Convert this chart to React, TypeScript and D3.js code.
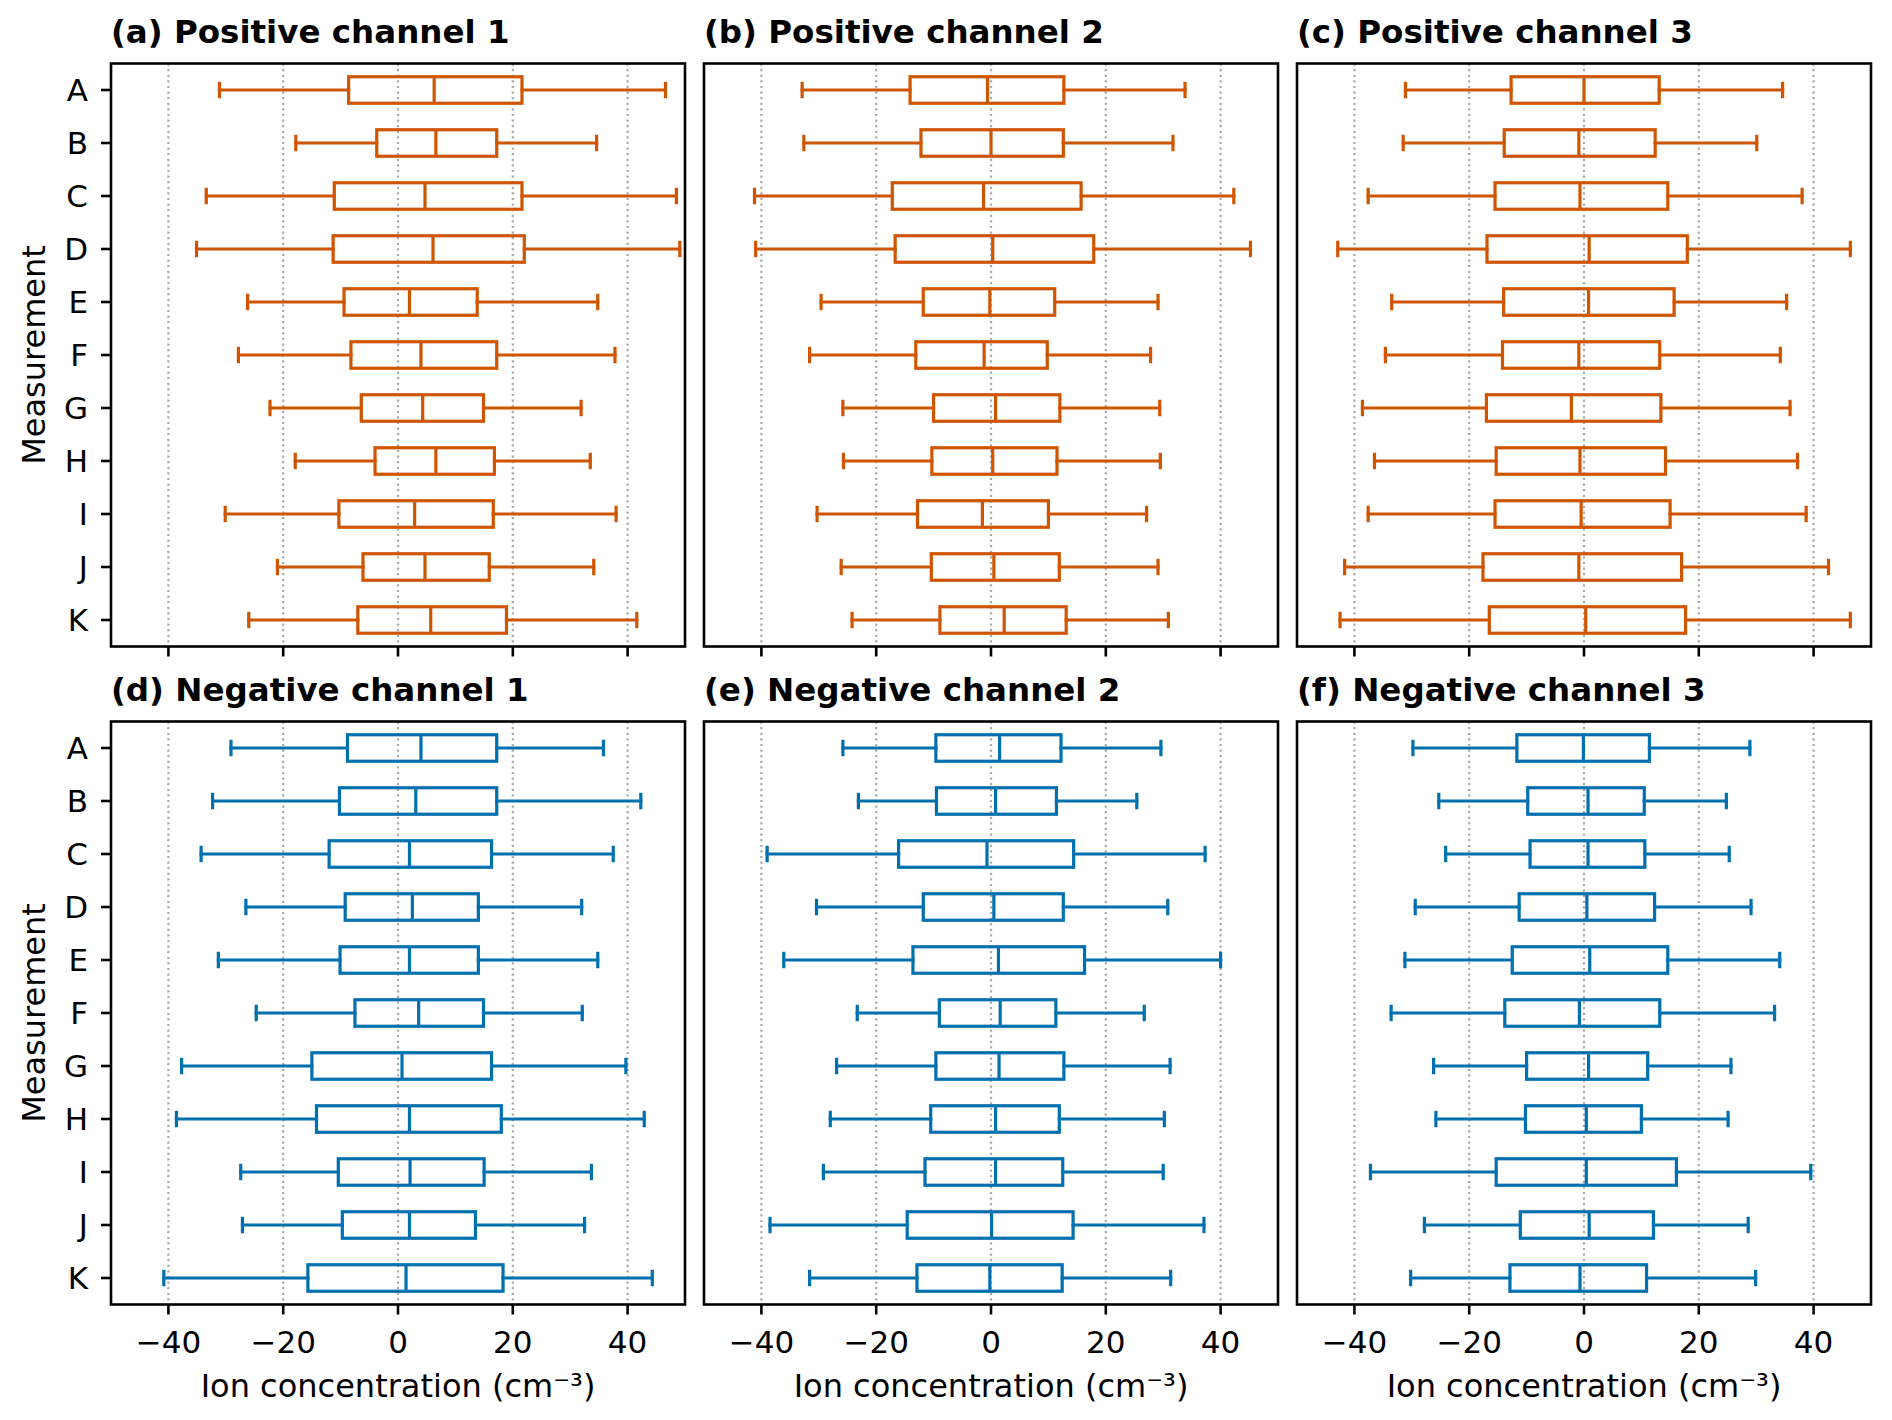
import React from 'react';
import * as d3 from 'd3';

// measurement letters, top to bottom
const categories = ['A', 'B', 'C', 'D', 'E', 'F', 'G', 'H', 'I', 'J', 'K'];

const xTicks = [-40, -20, 0, 20, 40];
const xTickLabels = ['−40', '−20', '0', '20', '40'];

// [whisker low, q1, median, q3, whisker high] per category
const posCh1 = [
  [-31.1, -8.6, 6.3, 21.6, 46.6],
  [-17.8, -3.7, 6.6, 17.2, 34.6],
  [-33.4, -11.1, 4.7, 21.6, 48.5],
  [-35.1, -11.3, 6.1, 22.0, 49.1],
  [-26.2, -9.4, 2.0, 13.8, 34.8],
  [-27.8, -8.2, 4.0, 17.2, 37.8],
  [-22.3, -6.4, 4.3, 14.9, 31.9],
  [-17.9, -4.0, 6.6, 16.8, 33.5],
  [-30.1, -10.3, 2.9, 16.6, 38.0],
  [-21.0, -6.1, 4.7, 15.9, 34.1],
  [-26.0, -7.0, 5.7, 18.9, 41.6],
];

const posCh2 = [
  [-32.9, -14.1, -0.6, 12.7, 33.8],
  [-32.6, -12.2, 0.0, 12.6, 31.7],
  [-41.2, -17.2, -1.3, 15.7, 42.3],
  [-41.0, -16.7, 0.3, 17.9, 45.2],
  [-29.6, -11.8, -0.2, 11.1, 29.1],
  [-31.6, -13.1, -1.2, 9.8, 27.8],
  [-25.8, -10.0, 0.8, 12.0, 29.4],
  [-25.7, -10.3, 0.3, 11.5, 29.5],
  [-30.3, -12.8, -1.5, 10.0, 27.1],
  [-26.1, -10.4, 0.5, 11.9, 29.1],
  [-24.2, -8.9, 2.3, 13.1, 30.9],
];

const posCh3 = [
  [-31.1, -12.7, 0.0, 13.1, 34.6],
  [-31.5, -13.9, -0.9, 12.4, 30.1],
  [-37.6, -15.5, -0.7, 14.6, 38.0],
  [-42.9, -16.9, 0.9, 18.0, 46.4],
  [-33.5, -14.0, 0.8, 15.7, 35.3],
  [-34.6, -14.2, -0.9, 13.2, 34.2],
  [-38.6, -17.0, -2.2, 13.4, 35.9],
  [-36.5, -15.3, -0.7, 14.2, 37.2],
  [-37.6, -15.5, -0.5, 15.0, 38.7],
  [-41.7, -17.6, -0.9, 17.0, 42.6],
  [-42.5, -16.5, 0.3, 17.7, 46.4],
];

const negCh1 = [
  [-29.1, -8.8, 4.0, 17.2, 35.8],
  [-32.3, -10.2, 3.1, 17.2, 42.3],
  [-34.3, -12.0, 2.0, 16.3, 37.5],
  [-26.5, -9.2, 2.5, 14.0, 32.0],
  [-31.3, -10.1, 2.0, 14.0, 34.8],
  [-24.7, -7.5, 3.6, 14.9, 32.1],
  [-37.7, -15.0, 0.7, 16.3, 39.7],
  [-38.6, -14.2, 2.0, 18.0, 42.9],
  [-27.4, -10.4, 2.1, 15.0, 33.7],
  [-27.1, -9.7, 2.0, 13.5, 32.5],
  [-40.8, -15.7, 1.4, 18.3, 44.3],
];

const negCh2 = [
  [-25.8, -9.6, 1.5, 12.2, 29.6],
  [-23.1, -9.5, 0.8, 11.4, 25.4],
  [-39.0, -16.1, -0.7, 14.4, 37.3],
  [-30.4, -11.8, 0.5, 12.6, 30.8],
  [-36.1, -13.6, 1.3, 16.3, 40.0],
  [-23.3, -9.0, 1.6, 11.3, 26.7],
  [-26.9, -9.6, 1.4, 12.7, 31.2],
  [-28.0, -10.5, 0.8, 11.9, 30.2],
  [-29.2, -11.5, 0.8, 12.5, 30.0],
  [-38.5, -14.6, 0.1, 14.3, 37.1],
  [-31.6, -12.9, -0.2, 12.4, 31.3],
];

const negCh3 = [
  [-29.8, -11.7, -0.1, 11.4, 28.9],
  [-25.3, -9.8, 0.7, 10.5, 24.8],
  [-24.1, -9.4, 0.7, 10.6, 25.3],
  [-29.4, -11.3, 0.5, 12.3, 29.1],
  [-31.2, -12.5, 1.0, 14.6, 34.1],
  [-33.6, -13.8, -0.8, 13.2, 33.2],
  [-26.2, -10.0, 0.8, 11.1, 25.6],
  [-25.8, -10.2, 0.4, 10.0, 25.1],
  [-37.2, -15.3, 0.4, 16.1, 39.5],
  [-27.8, -11.1, 0.9, 12.1, 28.6],
  [-30.2, -12.9, -0.7, 10.9, 29.9],
];

const POS_COLOR = '#D05500';
const NEG_COLOR = '#0070AE';
const FONT = '"DejaVu Sans", sans-serif';

const panels = [
  { title: '(a) Positive channel 1', data: posCh1, color: POS_COLOR, row: 0, col: 0 },
  { title: '(b) Positive channel 2', data: posCh2, color: POS_COLOR, row: 0, col: 1 },
  { title: '(c) Positive channel 3', data: posCh3, color: POS_COLOR, row: 0, col: 2 },
  { title: '(d) Negative channel 1', data: negCh1, color: NEG_COLOR, row: 1, col: 0 },
  { title: '(e) Negative channel 2', data: negCh2, color: NEG_COLOR, row: 1, col: 1 },
  { title: '(f) Negative channel 3', data: negCh3, color: NEG_COLOR, row: 1, col: 2 },
];

const colLefts = [111, 704, 1297];
const rowTops = [63.5, 721.5];
const panelW = 574;
const panelH = 583;

function Panel({ p }: { p: (typeof panels)[number] }) {
  const left = colLefts[p.col];
  const top = rowTops[p.row];
  const x = d3.scaleLinear().domain([-50, 50]).range([left, left + panelW]);
  const y = d3.scaleLinear().domain([0.5, 11.5]).range([top, top + panelH]);
  const unit = y(2) - y(1);
  const boxH = 0.5 * unit;
  const capH = 0.25 * unit;
  const lw = 3.2;
  const bottom = top + panelH;
  const showX = p.row === 1;
  const showY = p.col === 0;

  return (
    <g>
      {/* dotted grid */}
      {xTicks.map(t => (
        <line key={'g' + t} x1={x(t)} x2={x(t)} y1={top} y2={bottom}
          stroke="#aaaaaa" strokeWidth={2.2} strokeDasharray="2.2,3.4" />
      ))}

      {p.data.map((d, i) => {
        const cy = y(i + 1);
        const [lo, q1, med, q3, hi] = d;
        return (
          <g key={i} stroke={p.color} strokeWidth={lw} fill="none" strokeLinecap="square">
            <line x1={x(lo)} x2={x(q1)} y1={cy} y2={cy} />
            <line x1={x(q3)} x2={x(hi)} y1={cy} y2={cy} />
            <line x1={x(lo)} x2={x(lo)} y1={cy - capH / 2} y2={cy + capH / 2} />
            <line x1={x(hi)} x2={x(hi)} y1={cy - capH / 2} y2={cy + capH / 2} />
            <rect x={x(q1)} y={cy - boxH / 2} width={x(q3) - x(q1)} height={boxH} strokeLinejoin="miter" />
            <line x1={x(med)} x2={x(med)} y1={cy - boxH / 2} y2={cy + boxH / 2} strokeLinecap="butt" />
          </g>
        );
      })}

      {/* spines */}
      <rect x={left} y={top} width={panelW} height={panelH} fill="none" stroke="#000" strokeWidth={2.6} />

      {/* x ticks */}
      {xTicks.map((t, i) => (
        <g key={'xt' + t}>
          <line x1={x(t)} x2={x(t)} y1={bottom} y2={bottom + 10} stroke="#000" strokeWidth={2.6} />
          {showX && (
            <text x={x(t)} y={bottom + 48.5} textAnchor="middle" fontSize={31} fontFamily={FONT}>
              {xTickLabels[i]}
            </text>
          )}
        </g>
      ))}
      {showX && (
        <text x={left + panelW / 2} y={bottom + 92} textAnchor="middle" fontSize={32} fontFamily={FONT}>
          Ion concentration (cm⁻³)
        </text>
      )}

      {/* y ticks */}
      {showY && categories.map((c, i) => (
        <g key={'yt' + c}>
          <line x1={left - 10} x2={left} y1={y(i + 1)} y2={y(i + 1)} stroke="#000" strokeWidth={2.6} />
          <text x={left - 23} y={y(i + 1) + 11.4} textAnchor="end" fontSize={31} fontFamily={FONT}>
            {c}
          </text>
        </g>
      ))}
      {showY && (
        <text transform={`translate(44.5,${top + panelH / 2}) rotate(-90)`} textAnchor="middle"
          fontSize={32} fontFamily={FONT}>
          Measurement
        </text>
      )}

      <text x={left} y={top - 20.3} fontSize={32.5} fontWeight="bold" fontFamily={FONT}>
        {p.title}
      </text>
    </g>
  );
}

export default function App() {
  return (
    <svg width={1892} height={1420} viewBox="0 0 1892 1420"
      style={{ position: 'absolute', left: 0, top: 0, display: 'block', background: '#fff' }}>
      <rect x={0} y={0} width={1892} height={1420} fill="#fff" />
      {panels.map(p => <Panel key={p.title} p={p} />)}
    </svg>
  );
}
